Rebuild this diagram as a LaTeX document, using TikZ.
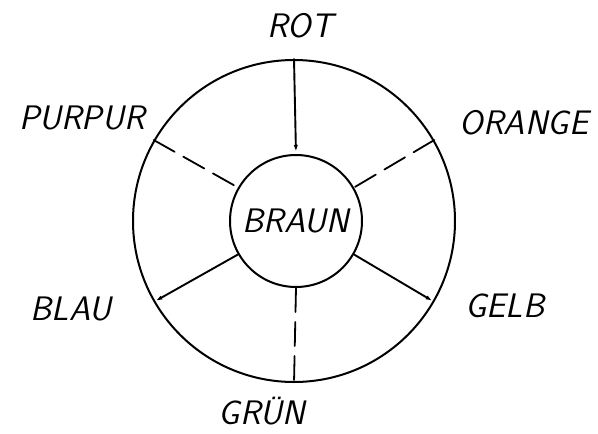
\documentclass[tikz,border=0pt]{standalone}
\usepackage{fontspec}
\usetikzlibrary{arrows.meta}
\tikzset{
  wheel line/.style={line width=2pt},
  spoke/.style={line width=1.9pt},
  gap spoke/.style={line width=1.8pt,dash pattern=on 24pt off 10pt},
  spoke tip/.style={-{Latex[length=9pt,width=4pt]}},
  colour label/.style={font=\sffamily\slshape\fontsize{34}{38}\selectfont,inner sep=0pt}
}

\begin{document}
\begin{tikzpicture}[x=1pt,y=-1pt,line cap=round,line join=round]
  \useasboundingbox (0,0) rectangle (598,434);
  % Outer ring and the brown centre.
  \node[wheel line,draw,circle,minimum size=322pt,inner sep=0pt] (wheel) at (294,221) {};
  \node[wheel line,draw,circle,minimum size=132pt,inner sep=0pt] (braun) at (296,221) {};
  \node[colour label] at (braun.center) {BRAUN};

  % Names round the ring.
  \node[colour label] (rot)    at (300,26)  {ROT};
  \node[colour label] (orange) at (524,123) {ORANGE};
  \node[colour label] (gelb)   at (505,306) {GELB};
  \node[colour label] (gruen)  at (262,411) {GRÜN};
  \node[colour label] (blau)   at (71,309)  {BLAU};
  \node[colour label] (purpur) at (82,118)  {PURPUR};

  % Spokes: solid ones carry a tip, the others are dashed.
  \draw[spoke,spoke tip] (wheel.90) -- (braun.90);
  \draw[spoke,spoke tip] (braun.-30) -- (wheel.-30);
  \draw[spoke,spoke tip] (braun.-150) -- (wheel.-150);
  \draw[gap spoke] (wheel.30) -- (braun.30);
  \draw[gap spoke] (braun.-90) -- (wheel.-90);
  \draw[gap spoke] (wheel.150) -- (braun.150);
\end{tikzpicture}
\end{document}
